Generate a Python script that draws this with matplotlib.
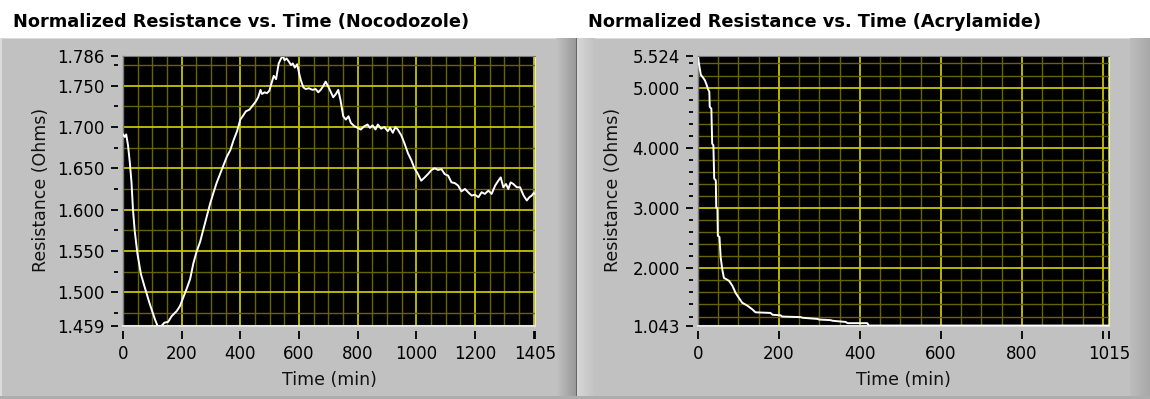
import numpy as np
import matplotlib
matplotlib.use("Agg")
import matplotlib.pyplot as plt
from matplotlib.ticker import FixedLocator

# Nocodozole run: time (min) and normalized resistance (Ohms)
noco_time = [0, 6, 11, 17, 23, 29, 34, 40, 49, 61, 74, 91, 109, 118, 131, 141, 154, 166,
             183, 194, 206, 217, 229, 240, 251, 263, 274, 286, 297, 309, 320, 331, 343,
             354, 366, 377, 389, 400, 408, 419, 431, 440, 451, 461, 469, 474, 483, 491,
             499, 509, 514, 522, 531, 539, 545, 551, 558, 566, 573, 579, 586, 594, 600,
             607, 615, 623, 634, 646, 657, 666, 674, 682, 691, 700, 709, 717, 726, 734,
             742, 751, 760, 769, 777, 789, 800, 811, 823, 834, 842, 851, 861, 869, 880,
             891, 903, 911, 920, 929, 937, 949, 960, 972, 983, 994, 1006, 1017, 1029,
             1040, 1052, 1063, 1074, 1086, 1097, 1109, 1120, 1132, 1143, 1154, 1166,
             1177, 1189, 1200, 1212, 1223, 1234, 1246, 1257, 1269, 1280, 1288, 1297,
             1306, 1314, 1322, 1331, 1343, 1354, 1366, 1377, 1386, 1394, 1400, 1405]
noco_res = [1.691, 1.688, 1.691, 1.678, 1.658, 1.633, 1.600, 1.574, 1.547, 1.522, 1.506,
            1.486, 1.467, 1.459, 1.459, 1.463, 1.464, 1.471, 1.477, 1.483, 1.494, 1.504,
            1.516, 1.535, 1.549, 1.561, 1.576, 1.592, 1.607, 1.621, 1.633, 1.643, 1.654,
            1.664, 1.672, 1.684, 1.695, 1.709, 1.713, 1.719, 1.721, 1.725, 1.730, 1.736,
            1.745, 1.740, 1.742, 1.741, 1.744, 1.756, 1.762, 1.758, 1.777, 1.783, 1.786,
            1.781, 1.783, 1.779, 1.775, 1.777, 1.772, 1.776, 1.766, 1.756, 1.748, 1.746,
            1.747, 1.745, 1.746, 1.742, 1.745, 1.749, 1.755, 1.749, 1.742, 1.736, 1.740,
            1.745, 1.732, 1.713, 1.709, 1.713, 1.705, 1.701, 1.699, 1.697, 1.701, 1.703,
            1.699, 1.702, 1.697, 1.703, 1.698, 1.700, 1.695, 1.699, 1.693, 1.700, 1.697,
            1.690, 1.680, 1.668, 1.660, 1.650, 1.643, 1.635, 1.639, 1.643, 1.648, 1.650,
            1.648, 1.649, 1.643, 1.641, 1.633, 1.632, 1.629, 1.622, 1.625, 1.621, 1.617,
            1.618, 1.615, 1.621, 1.619, 1.623, 1.619, 1.629, 1.635, 1.639, 1.627, 1.631,
            1.625, 1.633, 1.631, 1.627, 1.627, 1.617, 1.611, 1.615, 1.617, 1.620, 1.619]

# Acrylamide run
acryl_time = [0, 2, 7, 12, 17, 21, 25, 28, 29, 33, 35, 38, 40, 44, 45, 48, 49, 53, 56,
              60, 64, 70, 77, 85, 93, 101, 109, 122, 134, 142, 179, 184, 204, 208, 254,
              258, 295, 299, 328, 332, 365, 369, 418, 422, 1015]
acryl_res = [5.52, 5.41, 5.21, 5.17, 5.12, 5.05, 4.97, 4.93, 4.68, 4.65, 4.07, 4.04,
             3.49, 3.46, 3.01, 2.99, 2.54, 2.52, 2.18, 1.98, 1.84, 1.82, 1.79, 1.71,
             1.59, 1.51, 1.43, 1.38, 1.32, 1.27, 1.26, 1.23, 1.22, 1.20, 1.19, 1.18,
             1.16, 1.15, 1.14, 1.13, 1.11, 1.09, 1.09, 1.05, 1.05]

noco_xticks = [0, 200, 400, 600, 800, 1000, 1200, 1400, 1405]
noco_xlabels = ["0", "200", "400", "600", "800", "1000", "1200", "", "1405"]
noco_yticks = [1.459, 1.5, 1.55, 1.6, 1.65, 1.7, 1.75, 1.786]
acryl_xticks = [0, 200, 400, 600, 800, 1000, 1015]
acryl_xlabels = ["0", "200", "400", "600", "800", "", "1015"]
acryl_yticks = [1.043, 2.0, 3.0, 4.0, 5.0, 5.524]

W, H = 1150, 399
fig = plt.figure(figsize=(W / 100, H / 100), dpi=100)

# panel background: white strip for titles, two bevelled grey panels below
bg = np.ones((H, W, 3))
bg[38:, :, :] = 0.76
bg[38, :, :] = 0.86
bg[38:, 0:2, :] = 0.86
grad = np.linspace(0.76, 0.60, 20)
bg[38:, 556:576, :] = grad[None, :, None]
bg[38:, 576, :] = 0.40
grad = np.linspace(0.84, 0.76, 18)
bg[38:, 577:595, :] = grad[None, :, None]
grad = np.linspace(0.74, 0.66, 20)
bg[38:, 1130:1150, :] = grad[None, :, None]
bg[396:, :, :] = 0.68
fig.figimage(bg, xo=0, yo=0, origin="upper", zorder=-10)

MAJOR = "#c8c400"
MINOR = "#666300"
TICKFONT = 12


def px_axes(x0, x1, y0, y1):
    return fig.add_axes([x0 / W, 1 - y1 / H, (x1 - x0) / W, (y1 - y0) / H])


def style_panel(ax, xticks, xlabels, xminor, yticks, yminor, xlim, ylim):
    ax.set_facecolor("black")
    ax.set_xlim(*xlim)
    ax.set_ylim(*ylim)
    ax.set_xticks(xticks)
    ax.set_xticklabels(xlabels)
    ax.set_yticks(yticks)
    ax.set_yticklabels([f"{v:.3f}" for v in yticks])
    ax.xaxis.set_minor_locator(FixedLocator(xminor))
    ax.yaxis.set_minor_locator(FixedLocator(yminor))
    ax.grid(which="major", color=MAJOR, linewidth=1.3)
    ax.grid(which="minor", color=MINOR, linewidth=1.0)
    ax.set_axisbelow(True)
    for side in ("left", "bottom"):
        ax.spines[side].set_position(("outward", 3.5))
        ax.spines[side].set_color("none")
    ax.spines["top"].set_color("#7a7a7a")
    ax.spines["right"].set_color("#e4e4e4")
    ax.plot([0, 0], [0, 1], color="#7a7a7a", lw=1, transform=ax.transAxes, clip_on=False)
    ax.plot([0, 1], [0, 0], color="#e4e4e4", lw=1.5, transform=ax.transAxes, clip_on=False)
    ax.tick_params(which="major", axis="y", length=5, width=1.3, pad=4.5,
                   labelsize=TICKFONT, color="black")
    ax.tick_params(which="minor", axis="y", length=3, width=1.3, color="black")
    ax.tick_params(which="major", axis="x", length=6, width=1.3, pad=4,
                   labelsize=TICKFONT, color="black")
    ax.tick_params(which="minor", axis="x", length=0)


# Nocodozole panel
ax1 = px_axes(123, 535, 56, 326)
style_panel(ax1, noco_xticks, noco_xlabels, np.arange(50, 1400, 50),
            noco_yticks, np.arange(1.475, 1.78, 0.05), (0, 1405), (1.459, 1.786))
ax1.plot(noco_time, noco_res, color="white", lw=1.4)

# Acrylamide panel
ax2 = px_axes(698, 1109, 56, 326)
minor_y = [v for v in np.arange(1.2, 5.5, 0.2) if abs(v - round(v)) > 0.05]
style_panel(ax2, acryl_xticks, acryl_xlabels, np.arange(50, 1015, 50),
            acryl_yticks, minor_y, (0, 1015), (1.043, 5.524))
ax2.plot(acryl_time, acryl_res, color="white", lw=1.4)

title_kw = dict(fontsize=12.8, fontweight="bold", color="black", va="center", ha="left")
fig.text(13 / W, 1 - 22 / H, "Normalized Resistance vs. Time (Nocodozole)", **title_kw)
fig.text(588 / W, 1 - 22 / H, "Normalized Resistance vs. Time (Acrylamide)", **title_kw)

label_kw = dict(fontsize=12.5, color="#111111", ha="center", va="center")
fig.text(41 / W, 1 - 190 / H, "Resistance (Ohms)", rotation=90, **label_kw)
fig.text(613 / W, 1 - 190 / H, "Resistance (Ohms)", rotation=90, **label_kw)
fig.text(329 / W, 1 - 380 / H, "Time (min)", **label_kw)
fig.text(903 / W, 1 - 380 / H, "Time (min)", **label_kw)

fig.savefig("out.png", dpi=100)
